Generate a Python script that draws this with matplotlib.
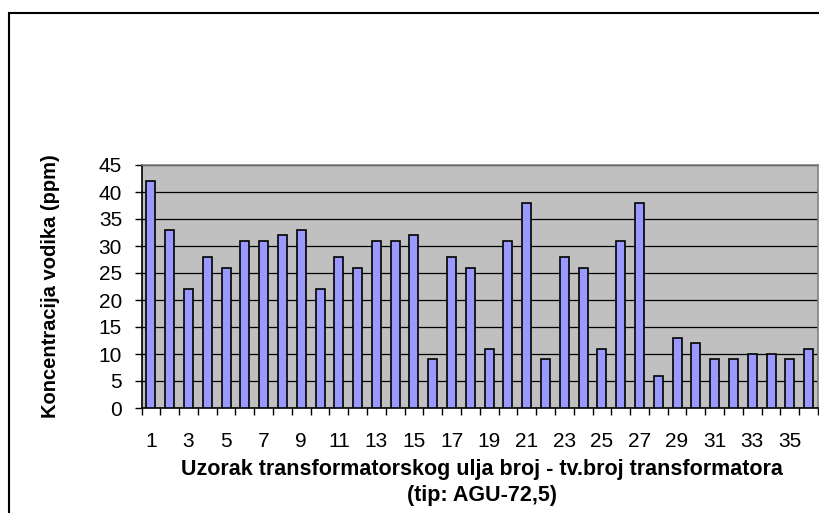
import matplotlib
matplotlib.use("Agg")
import matplotlib.pyplot as plt
import numpy as np
from matplotlib.patches import Rectangle

plt.rcParams['font.family'] = ['Liberation Sans', 'DejaVu Sans']

uzorci = list(range(1, 37))
vodik = [42, 33, 22, 28, 26, 31, 31, 32, 33, 22, 28, 26, 31, 31, 32, 9, 28, 26,
         11, 31, 38, 9, 28, 26, 11, 31, 38, 6, 13, 12, 9, 9, 10, 10, 9, 11]
oznake = [str(u) if u % 2 == 1 else "" for u in uzorci]

fig = plt.figure(figsize=(8.19, 5.13), dpi=100)
W, H = 819, 513

# okvir oko cijelog grafikona
fig.patches.append(Rectangle((9 / W, 0 - 0.05), 1.2, (H - 13) / H + 0.05,
                             transform=fig.transFigure, fill=False,
                             edgecolor="black", linewidth=1.5))

ax = fig.add_axes([141.5 / W, (H - 408) / H, (818 - 141.5) / W, (408 - 165) / H])
ax.set_facecolor("#C0C0C0")

x = np.arange(len(uzorci))
ax.bar(x, vodik, width=0.48, color="#9999FF", edgecolor="black", linewidth=1.2, zorder=3)

ax.set_xlim(-0.5, len(uzorci) - 0.5)
ax.set_ylim(0, 45)
ax.set_yticks(range(0, 46, 5))
ax.yaxis.grid(True, color="black", linewidth=0.9, zorder=1)
ax.set_axisbelow(True)

# crtice izmedju kategorija, oznake na sredini
ax.set_xticks(np.arange(-0.5, len(uzorci)), labels=[""] * (len(uzorci) + 1))
ax.set_xticks(x, labels=oznake, minor=True)
ax.tick_params(axis="x", which="major", length=5, width=1, direction="out")
ax.tick_params(axis="x", which="minor", length=0, pad=17, labelsize=15)
ax.tick_params(axis="y", length=5, width=1, direction="out", labelsize=15, pad=9)

for s in ["left", "bottom"]:
    ax.spines[s].set_color("black")
    ax.spines[s].set_linewidth(1.2)
for s in ["top", "right"]:
    ax.spines[s].set_color("#808080")
    ax.spines[s].set_linewidth(1.2)

ax.set_ylabel("Koncentracija vodika (ppm)", fontsize=14.5, fontweight="bold")
ax.yaxis.set_label_coords((60 - 141.5) / (818 - 141.5), 0.5)

fig.text(482 / W, 1 - 469 / H, "Uzorak transformatorskog ulja broj - tv.broj transformatora",
         ha="center", va="center", fontsize=15.5, fontweight="bold")
fig.text(482 / W, 1 - 495 / H, "(tip: AGU-72,5)",
         ha="center", va="center", fontsize=15.5, fontweight="bold")

fig.savefig("out.png", dpi=100)
